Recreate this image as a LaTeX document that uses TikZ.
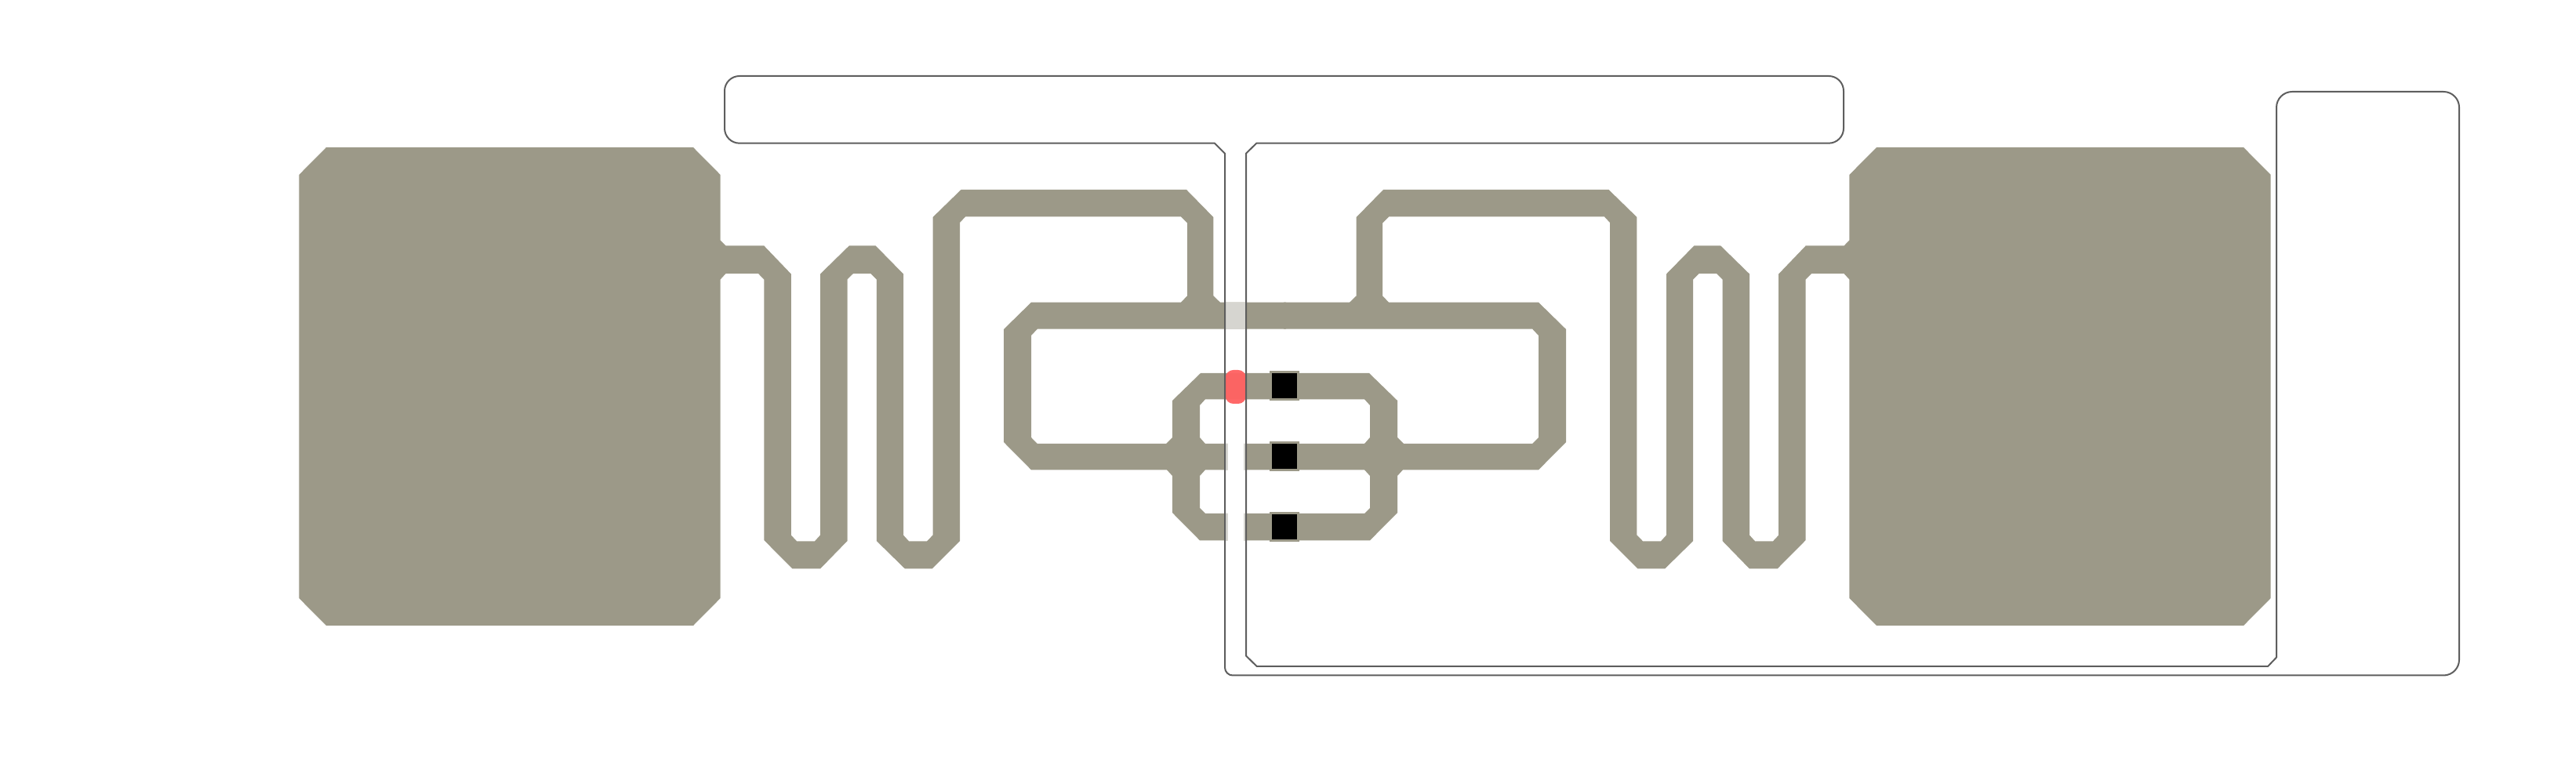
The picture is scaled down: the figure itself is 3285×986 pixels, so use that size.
\documentclass[tikz,border=0pt]{standalone}

\definecolor{tracecol}{HTML}{9C9988}
\definecolor{tracefaint}{HTML}{D6D5D0}
\definecolor{outlinecol}{HTML}{5E5E5E}
\definecolor{bridgecol}{HTML}{FF6262}

\tikzset{
	trace/.style={fill=tracecol, draw=none},
	faint/.style={fill=tracefaint, draw=none},
	gap/.style={fill=white, draw=none},
	chipdot/.style={fill=black, draw=tracecol, line width=0.03cm},
	outline/.style={draw=outlinecol, line width=0.02cm, line join=round},
	bridge/.style={fill=bridgecol, draw=none, rounded corners=0.1cm, opacity=0.96}
}

% one half of the antenna, pad to centre line
\def\halfantenna{
	\fill[trace] (1640,385.7) -- (1556,385.7) -- (1547.3,377.3) -- (1547.3,277)
	-- (1513,242) -- (1225.5,242) -- (1189.6,277)
	-- (1189.6,682.6) -- (1182,690.3) -- (1159,690.3) -- (1152,682.6)
	-- (1152,349.5) -- (1116.7,313.5) -- (1082.8,313.5) -- (1046,349.5)
	-- (1046,682.6) -- (1039,690.3) -- (1016,690.3) -- (1008.8,682.6)
	-- (1008.8,349.5) -- (974.3,313.5) -- (925.5,313.5) -- (918.7,306.6)
	-- (918.7,223) -- (884,188) -- (416,188) -- (381.3,223)
	-- (381.3,763) -- (416,798) -- (884,798) -- (918.7,763)
	-- (918.7,356.4) -- (925.5,349) -- (967,349) -- (974.3,356.4)
	-- (974.3,689) -- (1010.5,725.5) -- (1046,725.5) -- (1080.5,690)
	-- (1080.5,356.4) -- (1088,349) -- (1110.4,349) -- (1117.8,356.4)
	-- (1117.8,690) -- (1154,725.5) -- (1188.5,725.5) -- (1224,690)
	-- (1224,284) -- (1231,276.5) -- (1506,276.5) -- (1514,284.5)
	-- (1514,377.3) -- (1506,385.7) -- (1315,385.7) -- (1280,420)
	-- (1280,564) -- (1315,599.3) -- (1488,599.3) -- (1495,607)
	-- (1495,654) -- (1530,689.3) -- (1640,689.3) -- (1640,655)
	-- (1537,655) -- (1530,648) -- (1530,607) -- (1537,599.3)
	-- (1640,599.3) -- (1640,566) -- (1537,566) -- (1530,558)
	-- (1530,517) -- (1537,509.3) -- (1640,509.3) -- (1640,476)
	-- (1531,476) -- (1495,511) -- (1495,558) -- (1487,566)
	-- (1322.8,566) -- (1315,558) -- (1315,428) -- (1322.8,419.7)
	-- (1640,419.7) -- cycle;
}

\begin{document}
\begin{tikzpicture}[x=0.01cm, y=-0.01cm]

	\useasboundingbox (0,0) rectangle (3285,986);

	% left and right half
	\halfantenna
	\begin{scope}[shift={(3277,0)}, xscale=-1]
		\halfantenna
	\end{scope}

	% strip across the top bar
	\fill[faint] (1562,385.7) rectangle (1589,419.7);

	% strip across the two lower rows
	\fill[faint] (1562,566) rectangle (1589,599.3);
	\fill[faint] (1562,655) rectangle (1589,689.3);
	\fill[gap] (1566,565) rectangle (1586,600.3);
	\fill[gap] (1566,654) rectangle (1586,690.3);

	% bridge on the upper row
	\fill[bridge] (1562.7,472) rectangle (1589,515);

	% chip contacts
	\draw[chipdot] (1620.5,474.8) rectangle (1655.8,509.2);
	\draw[chipdot] (1620.5,564.8) rectangle (1655.8,599.2);
	\draw[chipdot] (1620.5,654.5) rectangle (1655.8,689.2);

	% closed outline of the cut
	\draw[outline] (1562,195.7)
	[rounded corners=0.1cm] -- (1562,861.5)
	[rounded corners=0.2cm] -- (3136,861.5) -- (3136,117) -- (2903,117)
	[sharp corners] -- (2903,838.5) -- (2892,850) -- (1602.7,850)
	-- (1589,836.5) -- (1589,195.7) -- (1602.3,182.7)
	[rounded corners=0.19cm] -- (2351,182.7) -- (2351,97) -- (924,97)
	-- (924,182.7)
	[sharp corners] -- (1549,182.7) -- cycle;

\end{tikzpicture}
\end{document}
